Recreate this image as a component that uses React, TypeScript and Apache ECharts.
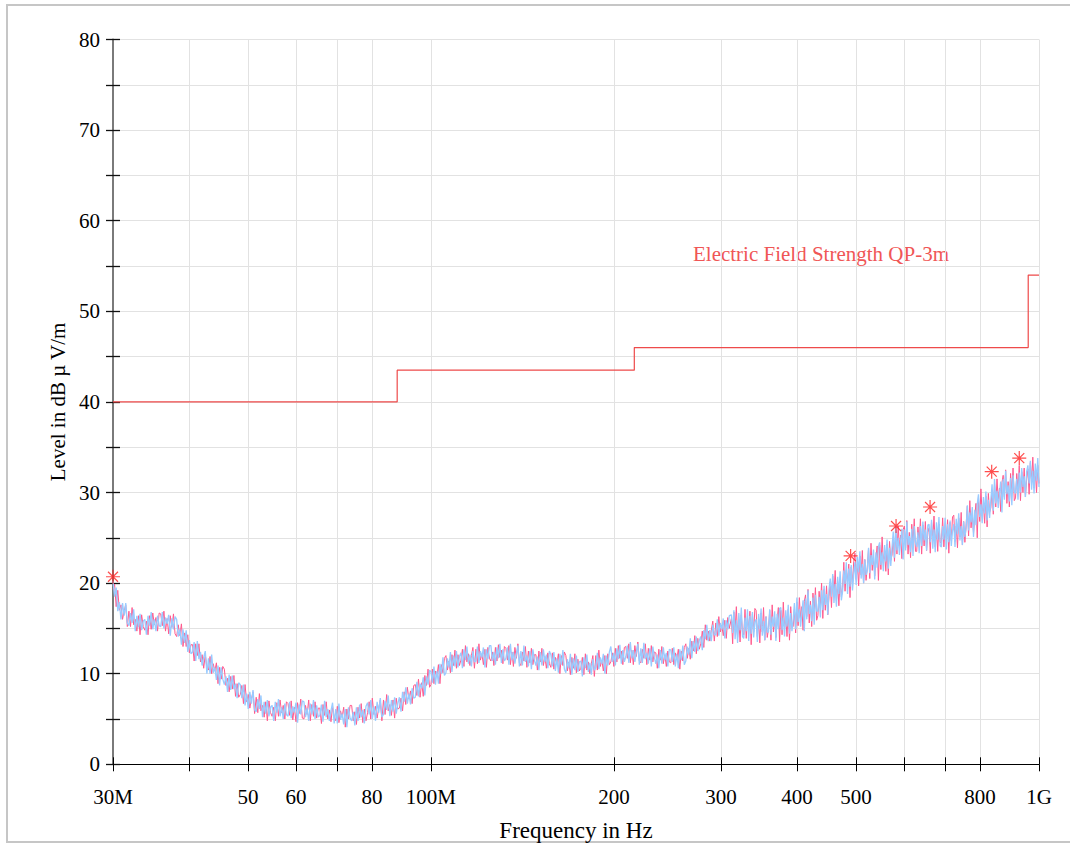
import React, { useEffect, useRef } from "react";
import * as echarts from "echarts";

// ---- sweep (measurement grid): three log-spaced sub-ranges ----
const segStartMHz = [30, 100, 312];
const segStopMHz = [99.5, 309.5, 1000];
const segPoints = [200, 200, 250];

const levelBlue = [
  // 30 – 99 MHz
  20.2, 18.5, 19.5, 16.9, 17.9, 16.0, 17.8, 16.4, 17.8, 15.6,
  15.3, 16.7, 15.6, 17.1, 14.7, 16.4, 15.1, 16.6, 14.8, 15.8,
  16.0, 14.3, 16.4, 15.3, 16.8, 14.9, 16.0, 14.7, 16.4, 15.3,
  15.2, 16.8, 15.0, 16.2, 15.5, 16.5, 14.2, 16.1, 14.9, 16.3,
  16.0, 14.1, 14.9, 13.2, 14.9, 13.4, 14.8, 12.4, 13.7, 12.2,
  12.4, 13.5, 11.4, 13.6, 11.6, 12.4, 10.9, 11.8, 12.5, 10.0,
  11.7, 10.0, 12.1, 10.1, 10.7, 9.3, 10.9, 8.7, 10.7, 9.4,
  8.8, 9.7, 8.0, 9.9, 8.2, 9.8, 8.3, 8.9, 7.3, 9.0,
  8.8, 7.3, 8.8, 6.5, 7.8, 6.1, 8.0, 6.7, 8.2, 6.0,
  5.8, 7.2, 6.1, 7.6, 5.2, 6.9, 5.6, 7.1, 5.3, 6.3,
  6.5, 4.8, 6.9, 5.7, 7.2, 5.3, 6.3, 5.0, 6.7, 5.5,
  5.3, 6.9, 5.1, 6.4, 5.7, 6.8, 4.6, 6.6, 5.5, 7.0,
  6.9, 5.2, 6.2, 4.8, 6.7, 5.5, 7.1, 5.0, 6.5, 5.2,
  5.4, 6.6, 4.7, 7.0, 5.2, 6.1, 4.8, 5.9, 6.8, 4.5,
  6.1, 4.5, 6.7, 4.9, 5.6, 4.4, 6.1, 4.1, 6.3, 5.1,
  4.8, 5.8, 4.3, 6.3, 4.8, 6.6, 5.2, 6.0, 4.5, 6.4,
  6.8, 5.5, 7.1, 5.0, 6.4, 4.8, 6.9, 5.7, 7.3, 5.2,
  5.5, 7.0, 6.0, 7.6, 5.3, 7.1, 5.8, 7.4, 5.6, 6.7,
  7.4, 5.8, 8.0, 6.9, 8.5, 6.7, 7.8, 6.6, 8.4, 7.3,
  7.4, 9.1, 7.5, 8.9, 8.4, 9.6, 7.6, 9.7, 8.8, 10.4,
  // 100 – 310 MHz
  10.2, 9.0, 10.8, 8.8, 10.3, 8.9, 11.1, 10.0, 11.8, 9.8,
  10.1, 11.7, 10.7, 12.4, 10.2, 12.0, 10.8, 12.5, 10.7, 11.9,
  12.3, 10.6, 12.7, 11.5, 13.0, 11.1, 12.1, 10.8, 12.5, 11.3,
  11.4, 13.0, 11.2, 12.5, 11.8, 12.9, 10.7, 12.7, 11.6, 13.1,
  13.1, 11.4, 12.4, 11.0, 12.9, 11.7, 13.3, 11.2, 12.7, 11.4,
  11.7, 12.9, 11.0, 13.3, 11.5, 12.4, 11.1, 12.2, 13.1, 10.8,
  12.5, 10.9, 13.1, 11.3, 12.0, 10.8, 12.5, 10.5, 12.7, 11.5,
  10.9, 11.9, 10.4, 12.4, 10.9, 12.7, 11.3, 12.1, 10.6, 12.5,
  12.1, 10.8, 12.4, 10.3, 11.7, 10.1, 12.2, 11.0, 12.6, 10.5,
  10.1, 11.6, 10.6, 12.2, 9.9, 11.7, 10.4, 12.0, 10.2, 11.3,
  11.4, 9.7, 11.8, 10.6, 12.1, 10.2, 11.2, 9.9, 11.6, 10.4,
  10.7, 12.3, 10.5, 11.8, 11.1, 12.2, 10.0, 12.0, 10.9, 12.4,
  13.0, 11.3, 12.3, 10.9, 12.8, 11.6, 13.2, 11.1, 12.6, 11.3,
  11.9, 13.1, 11.2, 13.5, 11.7, 12.6, 11.3, 12.4, 13.3, 11.0,
  12.8, 11.2, 13.4, 11.6, 12.3, 11.1, 12.8, 10.8, 13.0, 11.8,
  11.1, 12.1, 10.6, 12.6, 11.1, 12.9, 11.5, 12.3, 10.8, 12.7,
  12.6, 11.3, 12.9, 10.8, 12.2, 10.6, 12.7, 11.5, 13.1, 11.0,
  11.4, 13.0, 12.1, 13.9, 11.7, 13.6, 12.4, 14.1, 12.5, 13.7,
  14.1, 12.6, 14.8, 13.8, 15.4, 13.6, 14.8, 13.6, 15.4, 14.3,
  14.3, 16.0, 14.2, 15.6, 14.9, 16.1, 13.9, 15.9, 14.9, 16.4,
  // 312 – 1000 MHz
  16.5, 14.5, 17.0, 13.8, 15.9, 13.4, 16.7, 14.8, 17.3, 14.1,
  13.9, 16.2, 14.7, 17.1, 13.6, 16.4, 14.4, 16.8, 14.0, 15.7,
  16.0, 13.5, 16.6, 14.9, 17.2, 14.2, 15.8, 13.7, 16.3, 14.6,
  14.6, 17.1, 14.3, 16.3, 15.2, 16.9, 13.6, 16.6, 14.9, 17.2,
  17.3, 14.8, 16.2, 14.1, 17.0, 15.2, 17.6, 14.4, 16.7, 14.7,
  16.0, 17.8, 14.9, 18.4, 15.7, 17.1, 15.2, 16.8, 18.1, 14.7,
  18.3, 16.0, 19.2, 16.6, 17.6, 15.8, 18.4, 15.4, 18.7, 16.9,
  16.9, 18.5, 16.2, 19.2, 17.0, 19.7, 17.6, 18.8, 16.5, 19.3,
  20.5, 18.5, 21.0, 17.8, 19.9, 17.4, 20.7, 18.8, 21.3, 18.1,
  19.1, 21.4, 19.9, 22.3, 18.8, 21.6, 19.6, 22.0, 19.2, 20.9,
  22.3, 19.8, 22.9, 21.2, 23.5, 20.5, 22.1, 20.0, 22.6, 20.9,
  21.4, 23.9, 21.1, 23.1, 22.0, 23.7, 20.4, 23.4, 21.7, 24.0,
  24.5, 22.0, 23.4, 21.3, 24.2, 22.4, 24.8, 21.6, 23.9, 21.9,
  23.9, 25.7, 22.8, 26.3, 23.6, 25.0, 23.1, 24.7, 26.0, 22.6,
  25.9, 23.6, 26.8, 24.2, 25.2, 23.4, 26.0, 23.0, 26.3, 24.5,
  24.0, 25.6, 23.3, 26.3, 24.1, 26.8, 24.7, 25.9, 23.6, 26.4,
  26.5, 24.5, 27.0, 23.8, 25.9, 23.4, 26.7, 24.8, 27.3, 24.1,
  24.0, 26.3, 24.8, 27.2, 23.7, 26.5, 24.5, 26.9, 24.1, 25.8,
  26.5, 24.0, 27.1, 25.4, 27.7, 24.7, 26.3, 24.2, 26.8, 25.1,
  26.1, 28.6, 25.8, 27.8, 26.7, 28.4, 25.1, 28.1, 26.4, 28.7,
  29.8, 27.3, 28.7, 26.6, 29.5, 27.7, 30.1, 26.9, 29.2, 27.2,
  29.1, 30.9, 28.0, 31.5, 28.8, 30.2, 28.3, 29.9, 31.2, 27.8,
  31.5, 29.2, 32.4, 29.8, 30.8, 29.0, 31.6, 28.6, 31.9, 30.1,
  29.9, 31.5, 29.2, 32.2, 30.0, 32.7, 30.6, 31.8, 29.5, 32.3,
  33.0, 31.0, 33.5, 30.3, 32.4, 29.9, 33.2, 31.3, 33.8, 30.6,
];

const levelPink = [
  // 30 – 99 MHz
  19.3, 19.9, 17.4, 19.2, 17.0, 17.6, 16.0, 16.9, 17.6, 15.2,
  16.9, 15.2, 17.3, 15.4, 16.0, 14.7, 16.4, 14.3, 16.5, 15.2,
  14.8, 15.8, 14.3, 16.4, 14.9, 16.7, 15.4, 16.2, 14.7, 16.7,
  16.6, 15.3, 16.9, 14.7, 16.1, 14.4, 16.4, 15.1, 16.6, 14.4,
  14.1, 15.4, 14.2, 15.5, 13.0, 14.5, 13.0, 14.3, 12.3, 13.2,
  13.2, 11.4, 13.3, 12.0, 13.3, 11.3, 12.1, 10.6, 12.1, 10.7,
  10.4, 11.9, 10.0, 11.1, 10.3, 11.2, 8.9, 10.7, 9.4, 10.8,
  10.5, 8.7, 9.5, 8.0, 9.7, 8.3, 9.8, 7.5, 8.9, 7.4,
  7.7, 8.7, 6.7, 8.8, 6.9, 7.7, 6.2, 7.2, 8.0, 5.6,
  7.4, 5.7, 7.8, 5.9, 6.5, 5.2, 6.9, 4.8, 7.0, 5.7,
  5.3, 6.3, 4.8, 6.8, 5.3, 7.1, 5.7, 6.5, 5.0, 6.9,
  6.7, 5.4, 7.0, 4.9, 6.3, 4.7, 6.8, 5.6, 7.2, 5.1,
  5.0, 6.5, 5.5, 7.1, 4.8, 6.6, 5.3, 6.9, 5.1, 6.2,
  6.2, 4.5, 6.6, 5.4, 6.9, 5.0, 6.0, 4.7, 6.4, 5.2,
  4.8, 6.4, 4.6, 5.9, 5.2, 6.3, 4.1, 6.1, 5.0, 6.5,
  6.5, 4.8, 5.8, 4.4, 6.3, 5.1, 6.7, 4.6, 6.1, 4.8,
  5.7, 6.9, 5.0, 7.3, 5.5, 6.4, 5.1, 6.2, 7.1, 4.8,
  7.1, 5.5, 7.7, 5.9, 6.6, 5.4, 7.1, 5.1, 7.3, 6.1,
  6.2, 7.3, 5.9, 8.0, 6.6, 8.5, 7.2, 8.1, 6.7, 8.7,
  8.8, 7.6, 9.4, 7.4, 9.0, 7.5, 9.8, 8.7, 10.5, 8.5,
  // 100 – 310 MHz
  8.8, 10.5, 8.9, 10.3, 9.7, 11.0, 8.9, 11.0, 10.1, 11.7,
  12.0, 10.4, 11.4, 10.1, 12.1, 10.9, 12.6, 10.6, 12.1, 10.9,
  11.5, 12.7, 10.8, 13.1, 11.3, 12.2, 10.9, 12.0, 12.9, 10.6,
  12.7, 11.1, 13.3, 11.5, 12.2, 11.0, 12.7, 10.7, 12.9, 11.7,
  11.4, 12.4, 10.9, 12.9, 11.4, 13.2, 11.8, 12.6, 11.1, 13.0,
  12.8, 11.5, 13.1, 11.0, 12.4, 10.8, 12.9, 11.7, 13.3, 11.2,
  10.9, 12.4, 11.4, 13.0, 10.7, 12.5, 11.2, 12.8, 11.0, 12.1,
  12.1, 10.4, 12.5, 11.3, 12.8, 10.9, 11.9, 10.6, 12.3, 11.1,
  10.7, 12.3, 10.5, 11.8, 11.1, 12.2, 10.0, 12.0, 10.9, 12.4,
  12.0, 10.3, 11.3, 9.9, 11.8, 10.6, 12.2, 10.1, 11.6, 10.3,
  10.6, 11.8, 9.9, 12.2, 10.4, 11.3, 10.0, 11.1, 12.0, 9.7,
  12.0, 10.4, 12.6, 10.8, 11.5, 10.3, 12.0, 10.0, 12.2, 11.0,
  11.3, 12.3, 10.8, 12.8, 11.3, 13.1, 11.7, 12.5, 11.0, 12.9,
  13.0, 11.7, 13.3, 11.2, 12.6, 11.0, 13.1, 11.9, 13.5, 11.4,
  11.2, 12.7, 11.7, 13.3, 11.0, 12.8, 11.5, 13.1, 11.3, 12.4,
  12.3, 10.6, 12.7, 11.5, 13.0, 11.1, 12.1, 10.8, 12.5, 11.3,
  11.2, 12.8, 11.0, 12.3, 11.6, 12.7, 10.5, 12.5, 11.4, 12.9,
  13.3, 11.7, 12.8, 11.6, 13.6, 12.5, 14.2, 12.2, 13.9, 12.7,
  13.3, 14.7, 12.9, 15.4, 13.7, 14.7, 13.6, 14.8, 15.8, 13.6,
  15.6, 14.1, 16.3, 14.6, 15.3, 14.2, 15.9, 13.9, 16.2, 15.0,
  // 312 – 1000 MHz
  16.1, 13.3, 16.8, 14.8, 17.4, 14.0, 15.9, 13.5, 16.5, 14.5,
  14.3, 17.1, 13.9, 16.2, 14.9, 16.9, 13.2, 16.6, 14.6, 17.2,
  17.0, 14.1, 15.8, 13.4, 16.7, 14.6, 17.3, 13.7, 16.3, 14.0,
  14.9, 17.0, 13.7, 17.6, 14.6, 16.2, 14.0, 15.9, 17.3, 13.5,
  17.0, 14.3, 17.9, 15.0, 16.2, 14.1, 17.1, 13.7, 17.4, 15.3,
  15.2, 17.1, 14.5, 17.9, 15.3, 18.4, 16.0, 17.4, 14.8, 18.0,
  18.7, 16.3, 19.3, 15.6, 18.0, 15.2, 18.9, 16.7, 19.5, 15.9,
  16.4, 19.1, 17.3, 20.0, 16.1, 19.3, 17.0, 19.7, 16.5, 18.5,
  20.1, 17.3, 20.8, 18.8, 21.4, 18.0, 19.9, 17.5, 20.5, 18.5,
  19.5, 22.3, 19.1, 21.4, 20.1, 22.1, 18.4, 21.8, 19.8, 22.4,
  23.3, 20.4, 22.1, 19.7, 23.0, 20.9, 23.6, 20.0, 22.6, 20.3,
  21.7, 23.8, 20.5, 24.4, 21.4, 23.0, 20.8, 22.7, 24.1, 20.3,
  24.2, 21.5, 25.1, 22.2, 23.4, 21.3, 24.3, 20.9, 24.6, 22.5,
  23.1, 25.0, 22.4, 25.8, 23.2, 26.3, 23.9, 25.3, 22.7, 25.9,
  26.3, 23.9, 26.9, 23.2, 25.6, 22.8, 26.5, 24.3, 27.1, 23.5,
  23.5, 26.2, 24.4, 27.1, 23.2, 26.4, 24.1, 26.8, 23.6, 25.6,
  26.1, 23.3, 26.8, 24.8, 27.4, 24.0, 25.9, 23.5, 26.5, 24.5,
  24.4, 27.2, 24.0, 26.3, 25.0, 27.0, 23.3, 26.7, 24.7, 27.3,
  27.5, 24.6, 26.3, 23.9, 27.2, 25.1, 27.8, 24.2, 26.8, 24.5,
  26.4, 28.5, 25.2, 29.1, 26.1, 27.7, 25.5, 27.4, 28.8, 25.0,
  29.5, 26.8, 30.4, 27.5, 28.7, 26.6, 29.6, 26.2, 29.9, 27.8,
  28.3, 30.2, 27.6, 31.0, 28.4, 31.5, 29.1, 30.5, 27.9, 31.1,
  31.9, 29.5, 32.5, 28.8, 31.2, 28.4, 32.1, 29.9, 32.7, 29.1,
  29.4, 32.1, 30.3, 33.0, 29.1, 32.3, 30.0, 32.7, 29.5, 31.5,
  32.6, 29.8, 33.3, 31.3, 33.9, 30.5, 32.4, 30.0, 33.0, 31.0,
];

// ---- limit line: Electric Field Strength QP-3m ----
const limitFreqs = [30, 88, 88, 216, 216, 960, 960, 1000];
const limitLevels = [40, 40, 43.5, 43.5, 46, 46, 54, 54];
const limitName = "Electric Field Strength QP-3m";

// ---- peaks (asterisks) ----
const peakFreqs = [30, 490, 582, 662, 836, 928];
const peakLevels = [20.7, 23.0, 26.3, 28.4, 32.3, 33.8];

// ---- axis ticks / labels ----
const xTickFreqs = [30, 40, 50, 60, 70, 80, 100, 200, 300, 400, 500, 600, 700, 800, 1000];
const xLabelFreqs = [30, 50, 60, 80, 100, 200, 300, 400, 500, 800, 1000];
const xLabelTexts = ["30M", "50", "60", "80", "100M", "200", "300", "400", "500", "800", "1G"];
const yMin = 0;
const yMax = 80;
const yTickStep = 5;
const yLabelStep = 10;

const FONT = "'Liberation Serif', 'Times New Roman', serif";
const lg = (f: number) => Math.log10(f);

function sweepFrequencies(): number[] {
  const out: number[] = [];
  segStartMHz.forEach((a, s) => {
    const b = segStopMHz[s];
    const n = segPoints[s];
    for (let i = 0; i < n; i++) out.push(a * Math.pow(b / a, i / (n - 1)));
  });
  return out;
}

export default function App() {
  const ref = useRef<HTMLDivElement>(null);
  useEffect(() => {
    if (!ref.current) return;
    const chart = echarts.init(ref.current, null, { renderer: "svg" });
    const freqs = sweepFrequencies();
    const labelMap: Record<number, string> = {};
    xLabelFreqs.forEach((f, i) => (labelMap[f] = xLabelTexts[i]));

    const xCommon = {
      type: "value" as const,
      min: lg(30),
      max: lg(1000),
      position: "bottom" as const,
    };
    const yCommon = {
      type: "value" as const,
      min: yMin,
      max: yMax,
      interval: yTickStep,
      position: "left" as const,
    };

    const option: any = {
      animation: false,
      backgroundColor: "#ffffff",
      grid: { left: 113, right: 31, top: 39.5, bottom: 80.7, containLabel: false, outerBoundsMode: "none" },
      xAxis: [
        {
          ...xCommon,
          axisLine: { show: true, lineStyle: { color: "#000", width: 1 } },
          axisTick: { show: true, inside: false, length: 7, customValues: xTickFreqs.map(lg), lineStyle: { color: "#000", width: 1 } },
          axisLabel: {
            show: true,
            customValues: xLabelFreqs.map(lg),
            formatter: (v: number) => labelMap[Math.round(Math.pow(10, v))] ?? "",
            margin: 22,
            fontFamily: FONT,
            fontSize: 21,
            color: "#000",
          },
          splitLine: { show: true, lineStyle: { color: "#e2e2e2", width: 1 } },
          name: "Frequency in Hz",
          nameLocation: "middle",
          nameGap: 55,
          nameTextStyle: { fontFamily: FONT, fontSize: 23, color: "#000" },
        },
        {
          ...xCommon,
          axisLine: { show: false },
          axisTick: { show: true, inside: true, length: 7, customValues: xTickFreqs.map(lg), lineStyle: { color: "#000", width: 1 } },
          axisLabel: { show: false },
          splitLine: { show: false },
        },
      ],
      yAxis: [
        {
          ...yCommon,
          axisLine: { show: true, lineStyle: { color: "#7a7a7a", width: 2 } },
          axisTick: { show: true, inside: false, length: 7, lineStyle: { color: "#111", width: 1.3 } },
          axisLabel: {
            formatter: (v: number) => (v % yLabelStep === 0 ? String(v) : ""),
            margin: 13,
            fontFamily: FONT,
            fontSize: 21,
            color: "#000",
            padding: [10, 0, 0, 0],
          },
          splitLine: { show: true, lineStyle: { color: "#e2e2e2", width: 1 } },
          name: "Level in dB µ V/m",
          nameLocation: "middle",
          nameGap: 43,
          nameRotate: 90,
          nameTextStyle: { fontFamily: FONT, fontSize: 21, color: "#000" },
        },
        {
          ...yCommon,
          axisLine: { show: false },
          axisTick: { show: true, inside: true, length: 7, lineStyle: { color: "#111", width: 1.3 } },
          axisLabel: { show: false },
          splitLine: { show: false },
        },
      ],
      graphic: [
        {
          type: "rect",
          shape: { x: 7, y: 5, width: 1090, height: 837 },
          style: { fill: "none", stroke: "#c6c6c6", lineWidth: 2 },
          silent: true,
          z: -1,
        },
        {
          type: "text",
          x: 821,
          y: 254,
          style: {
            text: limitName,
            fill: "#f05656",
            font: `21px ${FONT}`,
            textAlign: "center",
            textVerticalAlign: "middle",
          },
          silent: true,
        },
      ],
      series: [
        {
          type: "line",
          name: "pink",
          data: levelPink.map((v, i) => [lg(freqs[i]), v]),
          showSymbol: false,
          lineStyle: { color: "#ff5a8e", width: 1 },
          z: 2,
        },
        {
          type: "line",
          name: "blue",
          data: levelBlue.map((v, i) => [lg(freqs[i]), v]),
          showSymbol: false,
          lineStyle: { color: "#99cbff", width: 1.3 },
          z: 3,
        },
        {
          type: "line",
          name: limitName,
          data: limitFreqs.map((f, i) => [lg(f), limitLevels[i]]),
          showSymbol: false,
          lineStyle: { color: "#ee4a4a", width: 1.2 },
          z: 4,
        },
        {
          type: "scatter",
          name: "peaks",
          data: peakFreqs.map((f, i) => [lg(f), peakLevels[i]]),
          symbol: "path://M7,0L7,14M0,7L14,7M2,2L12,12M2,12L12,2",
          symbolSize: 14,
          itemStyle: { color: "rgba(0,0,0,0)", borderColor: "#ff2020", borderWidth: 1.2 },
          z: 5,
        },
      ],
    };
    chart.setOption(option);
    return () => chart.dispose();
  }, []);
  return (
    <div
      ref={ref}
      style={{ position: "absolute", left: 0, top: 0, width: 1070, height: 845 }}
    />
  );
}
